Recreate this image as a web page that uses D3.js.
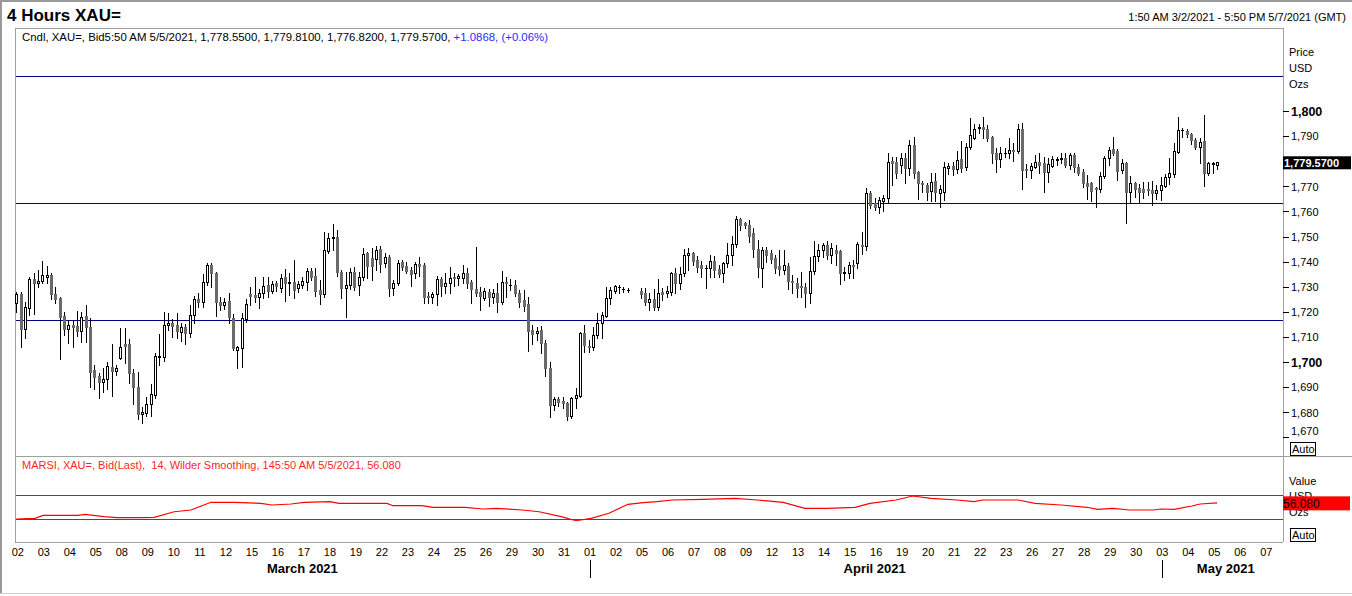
<!DOCTYPE html>
<html><head><meta charset="utf-8">
<script src="https://cdn.jsdelivr.net/npm/d3@7"></script>
<style>
html,body{margin:0;padding:0;background:#fff;overflow:hidden;}
svg{display:block;font-family:Arial,"Liberation Sans",sans-serif;}
</style></head><body>
<svg id="c" width="1352" height="596"></svg>
<script>
// ---- DATA (4-hour candles, index 0 = 1:50 AM 3/2/2021) ----
const opens=[1723.4,1727.1,1713.0,1721.4,1732.9,1731.3,1732.4,1733.7,1734.7,1727.0,1725.5,1718.3,1713.3,1714.7,1714.3,1712.3,1718.3,1714.1,1696.8,1694.4,1691.9,1693.1,1698.1,1696.5,1701.4,1707.0,1707.0,1695.7,1690.2,1679.2,1679.8,1683.3,1686.8,1701.9,1702.1,1714.6,1715.4,1714.6,1711.9,1714.1,1711.7,1718.6,1725.1,1724.0,1731.7,1738.6,1735.3,1723.8,1722.7,1724.3,1717.4,1704.8,1705.7,1717.0,1727.0,1726.7,1726.0,1727.4,1730.7,1728.3,1731.5,1729.6,1733.9,1731.6,1732.0,1729.6,1730.7,1732.0,1736.3,1734.3,1728.7,1727.2,1744.2,1749.3,1749.8,1735.7,1729.4,1730.7,1735.7,1730.7,1734.0,1743.3,1741.3,1741.0,1745.0,1739.3,1742.0,1729.4,1731.3,1739.7,1738.4,1736.7,1735.3,1738.9,1738.6,1726.3,1726.0,1727.1,1732.9,1730.3,1731.3,1733.7,1733.3,1733.3,1735.3,1731.7,1729.1,1728.0,1725.6,1728.0,1725.8,1727.6,1724.0,1731.7,1730.8,1730.7,1727.6,1724.7,1723.1,1712.7,1711.4,1712.7,1707.7,1697.5,1682.9,1685.1,1684.5,1683.5,1678.6,1685.5,1686.6,1711.4,1706.4,1706.1,1710.7,1715.7,1718.3,1725.4,1728.4,1729.7,1729.0,1728.7,null,null,1728.4,1727.6,1724.0,1725.1,1721.8,1728.0,1727.4,1728.0,1735.6,1731.6,1735.3,1742.5,1743.3,1740.6,1738.6,1737.3,1737.3,1740.2,1736.9,1735.3,1739.3,1742.6,1747.0,1756.8,1755.2,1754.6,1751.5,1744.9,1737.3,1744.6,1743.5,1741.3,1738.2,1736.6,1738.2,1732.4,1731.6,1730.3,1730.0,1727.6,1736.2,1742.2,1744.6,1746.6,1742.6,1744.6,1744.4,1735.6,1735.6,1738.7,1739.3,1746.6,1746.2,1767.2,1763.2,1761.9,1764.1,1765.2,1780.1,1779.8,1778.5,1781.1,1777.2,1786.5,1775.8,1771.4,1770.5,1768.1,1772.2,1767.2,1767.9,1777.2,1778.1,1776.8,1780.9,1777.8,1785.5,1789.1,1793.3,1793.8,1792.7,1789.8,1783.4,1780.7,1783.1,1783.1,1784.5,1784.1,1792.7,1776.8,1776.4,1777.8,1779.8,1779.1,1775.8,1778.1,1780.5,1780.7,1781.1,1778.5,1782.5,1777.6,1775.8,1771.4,1771.2,1769.5,1768.8,1774.1,1781.1,1784.7,1784.2,1776.5,1779.4,1767.9,1771.4,1769.2,1768.8,1768.9,1768.5,1767.2,1768.5,1770.1,1773.6,1774.9,1783.8,1792.4,1792.2,1790.8,1788.4,1785.5,1788.2,1775.2,1778.7,1778.55];
const highs=[1728.0,1728.0,1723.8,1734.0,1735.6,1736.6,1740.2,1738.4,1735.3,1729.7,1726.0,1720.0,1716.7,1716.7,1720.3,1720.0,1722.6,1717.4,1698.8,1695.5,1697.5,1700.1,1707.2,1698.8,1713.4,1713.4,1709.0,1697.1,1696.1,1682.2,1686.2,1691.1,1703.5,1711.1,1719.9,1719.4,1717.0,1719.4,1715.7,1715.1,1722.7,1726.3,1727.4,1735.1,1739.3,1739.3,1736.0,1726.0,1725.4,1727.4,1719.3,1706.5,1719.4,1725.1,1729.7,1733.9,1729.1,1734.0,1733.9,1732.3,1732.3,1734.9,1736.9,1735.3,1740.6,1732.3,1734.0,1737.3,1737.3,1737.3,1732.7,1751.9,1751.3,1754.8,1752.6,1736.7,1736.0,1737.6,1737.7,1735.7,1745.3,1744.0,1745.3,1746.4,1746.4,1743.3,1742.6,1732.7,1740.6,1740.6,1739.7,1738.0,1740.0,1741.9,1739.3,1728.0,1728.0,1734.3,1733.7,1735.3,1737.7,1735.6,1735.1,1738.6,1737.3,1732.7,1746.0,1730.0,1729.3,1729.0,1729.0,1731.3,1736.4,1734.0,1733.0,1732.7,1728.7,1728.7,1726.0,1714.7,1713.8,1714.3,1708.8,1700.1,1686.2,1686.2,1686.2,1684.2,1686.2,1689.5,1712.1,1714.7,1708.8,1714.1,1719.4,1720.0,1729.7,1730.0,1730.8,1730.7,1730.0,1729.3,null,null,1729.3,1729.6,1727.4,1728.9,1732.9,1729.3,1730.3,1736.0,1737.3,1738.0,1744.9,1745.3,1743.9,1742.2,1740.4,1738.6,1742.6,1742.2,1738.6,1740.0,1747.5,1750.2,1758.2,1757.2,1755.9,1756.6,1753.3,1748.6,1745.9,1745.9,1744.6,1742.6,1744.6,1744.6,1739.3,1734.7,1733.3,1736.0,1731.3,1741.7,1748.3,1747.0,1747.3,1748.3,1747.3,1746.6,1744.6,1738.0,1740.0,1740.6,1747.9,1751.9,1769.2,1768.3,1765.2,1765.6,1766.5,1783.4,1781.8,1781.8,1783.1,1783.1,1788.4,1789.8,1776.2,1772.2,1771.2,1775.2,1775.4,1770.5,1779.8,1779.4,1779.8,1784.2,1788.2,1787.1,1797.1,1794.8,1794.8,1797.7,1794.4,1790.0,1785.1,1785.5,1785.1,1789.1,1787.1,1794.8,1795.4,1778.9,1779.4,1782.5,1783.4,1781.8,1781.1,1782.1,1781.8,1783.4,1783.4,1783.4,1783.4,1778.9,1776.8,1774.5,1771.8,1769.9,1775.8,1782.1,1785.5,1789.5,1784.7,1780.7,1779.8,1774.1,1771.8,1770.9,1771.8,1771.8,1772.2,1770.5,1773.8,1774.9,1781.1,1787.1,1797.7,1793.1,1792.7,1791.4,1789.1,1789.1,1798.4,1779.8,1779.8,1779.81];
const lows=[1720.0,1706.1,1709.4,1718.7,1719.0,1730.0,1731.3,1731.3,1725.0,1723.6,1701.1,1710.6,1707.4,1705.8,1710.4,1708.1,1708.0,1690.2,1689.1,1685.8,1688.2,1689.1,1686.6,1694.8,1701.2,1699.5,1691.8,1683.3,1677.2,1675.8,1678.6,1678.6,1685.5,1698.7,1700.5,1712.7,1709.8,1709.4,1708.5,1707.0,1710.1,1715.4,1722.0,1722.0,1730.7,1730.0,1718.5,1720.7,1721.1,1715.4,1704.8,1697.7,1698.2,1716.1,1722.7,1723.8,1721.7,1725.4,1726.0,1727.4,1728.3,1728.0,1724.3,1726.7,1725.6,1727.8,1729.4,1728.7,1732.7,1726.4,1723.1,1726.0,1743.3,1744.6,1734.3,1725.4,1718.1,1729.1,1728.7,1726.7,1732.7,1733.4,1732.5,1736.7,1735.7,1738.0,1726.3,1726.7,1730.7,1736.7,1735.3,1730.4,1733.3,1734.4,1723.4,1723.6,1723.6,1722.7,1726.3,1727.4,1727.4,1730.3,1730.7,1731.3,1729.3,1723.6,1726.3,1720.7,1724.7,1722.3,1723.6,1720.0,1723.1,1726.0,1728.7,1726.3,1722.0,1720.5,1704.5,1707.2,1708.8,1703.7,1694.4,1677.9,1680.9,1682.5,1681.5,1676.9,1677.6,1681.5,1686.2,1704.1,1704.1,1704.8,1709.4,1709.4,1718.1,1723.1,1727.6,1727.6,1728.0,1728.0,null,null,1725.4,1722.7,1720.7,1720.7,1720.7,1724.7,1726.0,1726.7,1727.4,1728.9,1734.3,1736.6,1738.6,1736.0,1734.0,1729.3,1733.7,1734.0,1733.7,1732.0,1738.0,1738.6,1745.9,1752.6,1753.3,1747.9,1742.0,1734.0,1730.0,1740.0,1739.3,1735.6,1734.6,1735.1,1729.0,1727.4,1726.0,1726.0,1722.0,1723.4,1735.0,1740.4,1742.0,1740.9,1739.3,1738.6,1731.1,1732.7,1733.3,1733.3,1737.3,1743.0,1744.6,1761.2,1760.6,1759.2,1760.3,1763.2,1770.5,1773.2,1775.2,1771.4,1774.5,1773.2,1764.8,1767.9,1764.5,1764.3,1764.3,1761.9,1764.5,1774.9,1774.5,1775.4,1775.8,1776.5,1784.7,1788.7,1791.1,1789.1,1788.2,1779.2,1775.8,1777.6,1781.5,1781.1,1780.2,1783.1,1768.8,1773.8,1773.2,1777.2,1775.2,1767.9,1771.8,1777.6,1778.5,1779.2,1777.8,1776.8,1775.8,1774.5,1769.6,1764.8,1764.3,1761.6,1767.9,1773.2,1778.5,1782.5,1772.5,1775.2,1755.5,1763.9,1765.6,1763.9,1765.2,1766.5,1762.6,1764.8,1764.5,1769.6,1770.9,1773.8,1783.1,1789.8,1789.8,1786.9,1784.7,1779.2,1770.1,1774.5,1775.4,1776.82];
const closes=[1727.0,1713.0,1721.8,1732.9,1731.3,1732.4,1734.7,1734.7,1727.0,1725.2,1718.1,1713.3,1714.7,1714.1,1712.3,1718.1,1714.1,1696.1,1694.2,1691.9,1693.1,1698.4,1696.4,1697.6,1706.1,1706.5,1695.7,1690.2,1679.2,1680.1,1683.3,1687.2,1702.4,1702.4,1714.7,1715.4,1714.3,1712.3,1714.1,1711.7,1718.7,1725.1,1724.0,1731.7,1738.6,1735.3,1723.8,1722.7,1723.8,1718.1,1705.7,1705.8,1717.4,1723.0,1726.4,1726.0,1727.4,1730.4,1728.3,1730.9,1730.2,1733.6,1731.6,1732.0,1728.7,1730.9,1732.3,1736.3,1734.0,1728.3,1727.0,1744.6,1749.3,1749.8,1735.7,1729.4,1730.7,1735.7,1730.0,1734.0,1742.9,1738.4,1738.4,1744.6,1738.9,1742.0,1729.4,1731.3,1739.6,1738.0,1736.3,1735.2,1738.9,1738.4,1726.0,1726.0,1727.1,1732.9,1730.3,1731.6,1733.3,1733.5,1734.3,1735.3,1731.3,1729.1,1727.6,1726.3,1728.4,1726.0,1727.4,1724.0,1731.7,1731.5,1730.6,1727.4,1724.0,1722.4,1712.5,1711.0,1712.3,1707.4,1697.5,1682.9,1685.1,1684.2,1683.5,1678.6,1685.5,1686.8,1711.4,1706.8,1705.8,1710.7,1715.7,1718.7,1725.4,1728.7,1730.3,1729.9,1729.1,1728.8,null,null,1727.0,1724.0,1725.1,1722.0,1727.3,1727.1,1728.4,1735.6,1731.6,1735.1,1742.6,1743.3,1740.2,1738.0,1737.3,1737.6,1740.2,1736.6,1735.1,1739.6,1742.6,1747.0,1756.8,1754.6,1754.6,1750.2,1744.9,1737.7,1744.6,1742.6,1740.9,1737.3,1736.9,1738.6,1732.4,1731.9,1729.3,1729.7,1727.6,1736.2,1742.2,1744.6,1746.6,1742.6,1745.3,1743.6,1735.6,1736.0,1738.7,1738.3,1747.0,1746.2,1767.2,1762.6,1761.9,1764.5,1765.2,1779.5,1779.2,1775.4,1781.1,1777.2,1786.5,1775.4,1771.2,1770.9,1767.9,1771.8,1767.9,1768.8,1777.6,1778.1,1776.8,1780.5,1777.2,1785.5,1790.4,1792.7,1793.5,1792.7,1789.1,1783.4,1780.7,1783.4,1783.4,1784.5,1784.1,1792.7,1776.5,1776.5,1778.1,1779.8,1778.5,1775.8,1778.9,1780.7,1780.9,1781.1,1778.5,1782.5,1777.6,1775.4,1771.2,1770.1,1768.3,1768.8,1774.1,1781.1,1784.5,1783.4,1776.2,1779.2,1767.9,1771.4,1768.8,1767.9,1767.9,1768.5,1767.5,1768.5,1770.5,1773.6,1775.2,1784.2,1792.4,1792.5,1790.8,1788.4,1785.5,1787.8,1775.2,1779.2,1779.2,1779.57];
const dayLabels=["02","03","04","05","08","09","10","11","12","15","16","17","18","19","22","23","24","25","26","29","30","31","01","02","05","06","07","08","09","12","13","14","15","16","19","20","21","22","23","26","27","28","29","30","03","04","05","06","07"];
const monthNames=["March 2021","April 2021","May 2021"];
const monthStartDay=[0,22,44];
const monthEndDay=[22,44,49];
const priceTicks=[1670,1680,1690,1700,1710,1720,1730,1740,1750,1760,1770,1780,1790,1800];
const levelLines=[1814.0,1763.3,1716.6];
const rsiIdx=[0,4.3,6.2,14.2,15.9,20.2,23.2,29.2,31.8,36.4,40.3,44.9,50.5,56.4,59.0,63.4,66.4,72.4,74.4,85.5,86.9,93.6,96.1,103.5,107.7,110.7,116.7,120.6,125.7,129.1,132.6,136.7,141.1,144.6,147.8,151.3,158.4,165.8,170.9,176.9,181.9,187.0,193.5,196.9,202.9,206.8,211.0,217.0,220.9,223.0,231.1,235.0,241.0,247.0,249.5,253.0,256.7,262.2,264.1,267.1,271.2,273.1,277];
const rsiVal=[29.2,30.3,35.3,35.3,37.0,33.0,31.3,31.3,32.0,41.3,44.2,57.0,57.0,55.3,52.5,54.2,57.0,58.0,55.3,55.3,51.3,51.3,48.7,48.7,45.8,47.0,44.2,41.3,33.0,26.3,30.3,38.7,53.7,56.3,58.0,60.8,62.0,63.7,60.8,57.0,47.0,47.0,48.7,55.3,60.8,67.5,63.7,60.8,58.0,60.8,60.8,55.3,52.5,48.7,45.3,47.0,44.2,44.2,45.8,45.3,50.8,54.2,56.08];
const rsiLevels=[70,30];
const lastPrice=1779.57;
const lastRsi=56.08;

// ---- LAYOUT ----
const svg=d3.select("#c");
const L=15,R=1283,pTop=28,pBot=456,rBot=542;
const x=d3.scaleLinear().domain([0,288]).range([16.3,1264.8]);
const y=d3.scaleLinear().domain([1700,1800]).range([362,111]);
const yR=d3.scaleLinear().domain([30,70]).range([518.5,494.5]);
const grey="#a0a0a0";

// outer frame
svg.append("line").attr("x1",1).attr("x2",1).attr("y1",0).attr("y2",594).attr("stroke","#9a9a9a").attr("stroke-width",2);
svg.append("line").attr("x1",0).attr("x2",1352).attr("y1",1).attr("y2",1).attr("stroke","#9a9a9a").attr("stroke-width",2);
svg.append("line").attr("x1",0).attr("x2",1352).attr("y1",593.5).attr("y2",593.5).attr("stroke","#d0d0d0").attr("stroke-width",1);

// header
svg.append("text").attr("x",7).attr("y",21).attr("font-size",17).attr("font-weight","bold").text("4 Hours XAU=");
svg.append("text").attr("x",1346).attr("y",21).attr("font-size",11).attr("text-anchor","end").text("1:50 AM 3/2/2021 - 5:50 PM 5/7/2021 (GMT)");

// panel borders
const B=svg.append("g").attr("stroke",grey).attr("stroke-width",1).attr("shape-rendering","crispEdges");
B.append("line").attr("x1",L).attr("x2",R).attr("y1",pTop+0.5).attr("y2",pTop+0.5);
B.append("line").attr("x1",L+0.5).attr("x2",L+0.5).attr("y1",pTop).attr("y2",rBot);
B.append("line").attr("x1",R+0.5).attr("x2",R+0.5).attr("y1",pTop).attr("y2",rBot);
B.append("line").attr("x1",L).attr("x2",1352).attr("y1",pBot+0.5).attr("y2",pBot+0.5);
B.append("line").attr("x1",L).attr("x2",R).attr("y1",rBot+0.5).attr("y2",rBot+0.5);

// legend
const leg=svg.append("text").attr("x",22).attr("y",41).attr("font-size",11.4);
leg.append("tspan").attr("fill","#000").text("Cndl, XAU=, Bid5:50 AM 5/5/2021, 1,778.5500, 1,779.8100, 1,776.8200, 1,779.5700, ");
leg.append("tspan").attr("fill","#2b2bff").text("+1.0868, (+0.06%)");

// level lines
svg.append("g").selectAll("line").data(levelLines).join("line")
  .attr("x1",L+1).attr("x2",R).attr("y1",d=>Math.round(y(d))+0.5).attr("y2",d=>Math.round(y(d))+0.5)
  .attr("stroke","#000080").attr("stroke-width",1).attr("shape-rendering","crispEdges");

// candles
const candles=opens.map((o,i)=>({i,o,h:highs[i],l:lows[i],c:closes[i]})).filter(d=>d.o!=null);
const cg=svg.append("g").attr("shape-rendering","crispEdges");
candles.forEach(d=>{
  const px=Math.round(x(d.i));
  cg.append("line").attr("x1",px+0.5).attr("x2",px+0.5)
    .attr("y1",Math.round(y(d.h))).attr("y2",Math.round(y(d.l))+1)
    .attr("stroke","#000").attr("stroke-width",1);
  const top=Math.round(y(Math.max(d.o,d.c))), bot=Math.round(y(Math.min(d.o,d.c)));
  const hgt=bot-top;
  if(hgt<1){
    cg.append("line").attr("x1",px-1).attr("x2",px+2).attr("y1",top+0.5).attr("y2",top+0.5).attr("stroke","#000");
  } else if(d.c>=d.o){
    cg.append("rect").attr("x",px-0.5).attr("y",top+0.5).attr("width",2).attr("height",Math.max(hgt,1))
      .attr("fill","#fff").attr("stroke","#000").attr("stroke-width",1);
  } else {
    cg.append("rect").attr("x",px-1).attr("y",top).attr("width",3).attr("height",Math.max(hgt,1)+1)
      .attr("fill","#6a6a6a");
  }
});

// price axis
const ax=svg.append("g").attr("transform",`translate(${R},0)`)
  .call(d3.axisRight(y).tickValues(priceTicks).tickSize(6).tickPadding(2).tickFormat(d3.format(",")));
ax.select(".domain").remove();
ax.attr("font-family",null);
ax.selectAll(".tick line").attr("stroke","#000").attr("shape-rendering","crispEdges");
ax.selectAll(".tick text").attr("fill","#000")
  .attr("font-size",d=>d%100===0?12.5:11)
  .attr("font-weight",d=>d%100===0?"bold":"normal")
  .attr("dy",d=>d===1670?"-0.25em":"0.35em");
// the tick label hidden under the last-price tag
ax.selectAll(".tick text").filter(d=>Math.abs(y(d)-y(lastPrice))<8).remove();
svg.append("text").attr("x",1289).attr("y",56).attr("font-size",11).text("Price");
svg.append("text").attr("x",1289).attr("y",72).attr("font-size",11).text("USD");
svg.append("text").attr("x",1289).attr("y",88).attr("font-size",11).text("Ozs");
// last price tag
const ly=y(lastPrice);
svg.append("rect").attr("x",R).attr("y",ly-6).attr("width",68).attr("height",13).attr("fill","#000");
svg.append("text").attr("x",R+1).attr("y",ly+4.5).attr("font-size",11).attr("font-weight","bold").attr("fill","#fff").text(d3.format(",.4f")(lastPrice));

// auto boxes
function autoBox(yy){
  svg.append("rect").attr("x",1290.5).attr("y",yy+0.5).attr("width",25).attr("height",13).attr("fill","#fff").attr("stroke","#000").attr("shape-rendering","crispEdges");
  svg.append("text").attr("x",1292).attr("y",yy+11).attr("font-size",11).text("Auto");
}
autoBox(442);
autoBox(528);

// RSI panel
svg.append("text").attr("x",22).attr("y",469).attr("font-size",11).attr("fill","#ff1f1f")
  .text("MARSI, XAU=, Bid(Last),  14, Wilder Smoothing, 145:50 AM 5/5/2021, 56.080").attr("xml:space","preserve").style("white-space","pre");
svg.append("g").selectAll("line").data(rsiLevels).join("line")
  .attr("x1",L+1).attr("x2",R).attr("y1",d=>Math.round(yR(d))+0.5).attr("y2",d=>Math.round(yR(d))+0.5)
  .attr("stroke","#ff0000").attr("stroke-width",1).attr("shape-rendering","crispEdges");
const rsiPts=rsiIdx.map((v,i)=>[v,rsiVal[i]]);
svg.append("path").attr("d",d3.line().x(d=>x(d[0])).y(d=>yR(d[1]))(rsiPts))
  .attr("fill","none").attr("stroke","#ff0000").attr("stroke-width",1.2);
svg.append("text").attr("x",1289).attr("y",485).attr("font-size",11).text("Value");
svg.append("text").attr("x",1289).attr("y",500).attr("font-size",11).text("USD");
svg.append("text").attr("x",1289).attr("y",516).attr("font-size",11).text("Ozs");
const ry=yR(lastRsi);
svg.append("rect").attr("x",R).attr("y",ry-6.5).attr("width",67).attr("height",14).attr("fill","#ff0000");
svg.append("text").attr("x",R).attr("y",ry+5).attr("font-size",12).attr("fill","#000").text(d3.format(".3f")(lastRsi));

// time axis
const tickIdx=dayLabels.map((_,k)=>k*6);
const tx=svg.append("g").attr("transform",`translate(1,${rBot+2})`)
  .call(d3.axisBottom(x).tickValues(tickIdx).tickSize(0).tickPadding(4).tickFormat((d,i)=>dayLabels[i]));
tx.select(".domain").remove();
tx.attr("font-family",null);
tx.selectAll("text").attr("font-size",11).attr("fill","#000");
svg.append("g").selectAll("text").data(monthNames).join("text")
  .attr("x",(d,i)=>(x(monthStartDay[i]*6)+x(monthEndDay[i]*6))/2)
  .attr("y",573).attr("text-anchor","middle").attr("font-size",13).attr("font-weight","bold").text(d=>d);
svg.append("g").selectAll("line").data(monthStartDay.slice(1)).join("line")
  .attr("x1",d=>Math.round(x(d*6))+1.5).attr("x2",d=>Math.round(x(d*6))+1.5)
  .attr("y1",560).attr("y2",578).attr("stroke","#000").attr("shape-rendering","crispEdges");
</script>
</body></html>
